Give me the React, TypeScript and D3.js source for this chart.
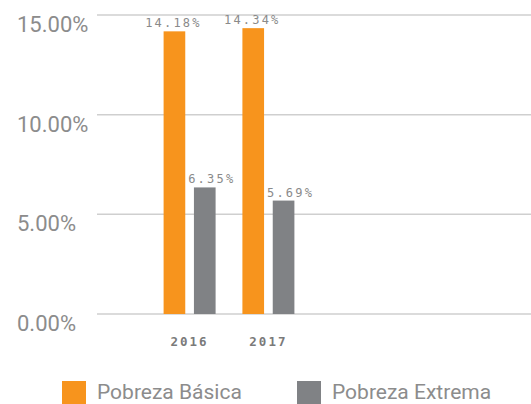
import React from 'react';
import * as d3 from 'd3';

// data
const years = ['2016', '2017'];
const seriesNames = ['Pobreza Básica', 'Pobreza Extrema'];
const pobrezaBasica = [14.18, 14.34];
const pobrezaExtrema = [6.35, 5.69];
const yTicks = [0, 5, 10, 15];
const colors = ['#F7941D', '#808285'];

const W = 531;
const H = 404;

export default function App() {
  const values = [pobrezaBasica, pobrezaExtrema];

  const y = d3.scaleLinear().domain([0, 15]).range([314, 15]);
  const x0 = d3.scaleBand().domain(years).range([97, 361]).paddingInner(0).paddingOuter(0.675);
  const x1 = d3
    .scaleBand()
    .domain(seriesNames)
    .range([x0.bandwidth() / 2 - 26, x0.bandwidth() / 2 + 26])
    .paddingInner(0.286);

  const fmt = (v: number) => v.toFixed(2) + '%';

  return (
    <svg
      width={W}
      height={H}
      style={{ position: 'absolute', left: 0, top: 0, display: 'block', background: '#fff' }}
    >
      {/* grid + y labels */}
      <g>
        {yTicks.map((t) => (
          <g key={t}>
            <line x1={97} x2={W} y1={y(t)} y2={y(t)} stroke="#cfcfcf" strokeWidth={1.5} />
            <text x={17} y={y(t) + 17} fontFamily="Roboto, sans-serif" fontSize={22} fill="#8c8c8c">
              {fmt(t)}
            </text>
          </g>
        ))}
      </g>

      {/* bars */}
      {years.map((yr, i) => (
        <g key={yr} transform={`translate(${x0(yr)},0)`}>
          {seriesNames.map((s, j) => {
            const v = values[j][i];
            const bx = x1(s) as number;
            return (
              <g key={s}>
                <rect x={bx} y={y(v)} width={x1.bandwidth()} height={y(0) - y(v)} fill={colors[j]} />
                <text
                  x={bx + x1.bandwidth() / 2 + (j === 1 ? 7 : -1)}
                  y={y(v) - 4}
                  textAnchor="middle"
                  fontFamily="'DejaVu Sans Mono', monospace"
                  fontSize={12}
                  style={{ letterSpacing: '2.2px' }}
                  fill="#8a8a8a"
                >
                  {fmt(v)}
                </text>
              </g>
            );
          })}
          <text
            x={x0.bandwidth() / 2}
            y={346}
            textAnchor="middle"
            fontFamily="'DejaVu Sans Mono', monospace"
            fontWeight="bold"
            fontSize={12.5}
            style={{ letterSpacing: '2px' }}
            fill="#7a7a7a"
          >
            {yr}
          </text>
        </g>
      ))}

      {/* legend */}
      {seriesNames.map((s, j) => {
        const lx = j === 0 ? 62 : 297;
        return (
          <g key={s}>
            <rect x={lx} y={381} width={24} height={23} fill={colors[j]} />
            <text x={lx + 35} y={399} fontFamily="Roboto, sans-serif" fontSize={21} fill="#8c8c8c">
              {s}
            </text>
          </g>
        );
      })}
    </svg>
  );
}
